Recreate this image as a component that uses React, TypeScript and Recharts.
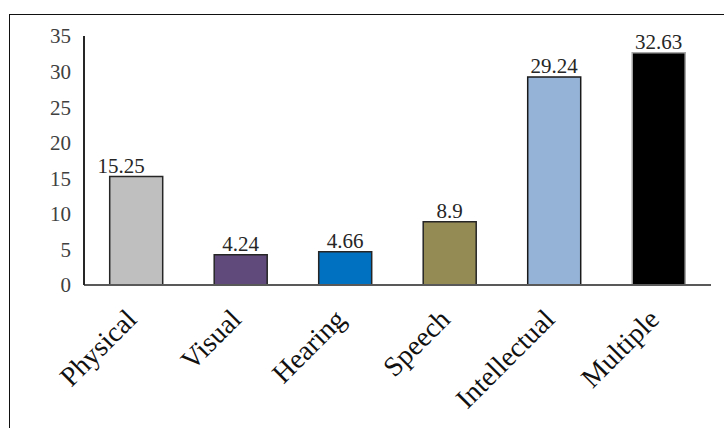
import { BarChart, Bar, XAxis, YAxis, Cell, LabelList } from 'recharts'

const categories = ['Physical', 'Visual', 'Hearing', 'Speech', 'Intellectual', 'Multiple']
const percentages = [15.25, 4.24, 4.66, 8.9, 29.24, 32.63]
const yTicks = [0, 5, 10, 15, 20, 25, 30, 35]

const barColors = ['#bfbfbf', '#604a7b', '#0070c0', '#948a54', '#95b3d7', '#000000']
const barStrokes = ['#262626', '#262626', '#262626', '#262626', '#1a1a1a', '#a6a6a6']

const FONT = '"Liberation Serif", "Times New Roman", serif'

const data = categories.map((name, i) => ({ name, value: percentages[i] }))

function AngledTick({ x, y, payload }: { x: number; y: number; payload: { value: string } }) {
  const ax = x + 2
  const ay = y + 36
  return (
    <text
      x={ax}
      y={ay}
      transform={`rotate(-45 ${ax} ${ay})`}
      textAnchor="end"
      fontFamily={FONT}
      fontSize={28}
      fill="#111"
    >
      {payload.value}
    </text>
  )
}

// first label sits a little left of its bar
function ValueLabel(props: any) {
  const { x, y, width, value, index } = props
  const shift = index === 0 ? -15 : 0
  return (
    <text
      x={x + width / 2 + shift}
      y={y - 4}
      textAnchor="middle"
      fontFamily={FONT}
      fontSize={21}
      fill="#262626"
    >
      {value}
    </text>
  )
}

export default function App() {
  return (
    <div
      style={{
        position: 'fixed',
        left: 0,
        top: 0,
        width: 724,
        height: 428,
        overflow: 'hidden',
        background: '#fff',
      }}
    >
      <div
        style={{
          position: 'absolute',
          left: 9,
          top: 14,
          width: 800,
          height: 500,
          border: '1.5px solid #111',
        }}
      />
      <div style={{ position: 'absolute', left: 0, top: 0 }}>
        <BarChart
          width={724}
          height={428}
          data={data}
          margin={{ top: 36, right: 13, bottom: 33, left: 0 }}
          barCategoryGap="24.6%"
        >
          <XAxis
            dataKey="name"
            height={110}
            interval={0}
            tickLine={false}
            tickSize={0}
            tickMargin={0}
            axisLine={{ stroke: '#595959', strokeWidth: 2 }}
            tick={AngledTick}
          />
          <YAxis
            width={84}
            domain={[0, 35]}
            ticks={yTicks}
            tickLine={false}
            tickSize={0}
            tickMargin={13}
            axisLine={{ stroke: '#262626', strokeWidth: 2 }}
            tick={{ fontFamily: FONT, fontSize: 21, fill: '#404040' }}
          />
          <Bar dataKey="value" isAnimationActive={false}>
            {data.map((d, i) => (
              <Cell key={d.name} fill={barColors[i]} stroke={barStrokes[i]} strokeWidth={1.5} />
            ))}
            <LabelList dataKey="value" content={ValueLabel} />
          </Bar>
        </BarChart>
      </div>
    </div>
  )
}
